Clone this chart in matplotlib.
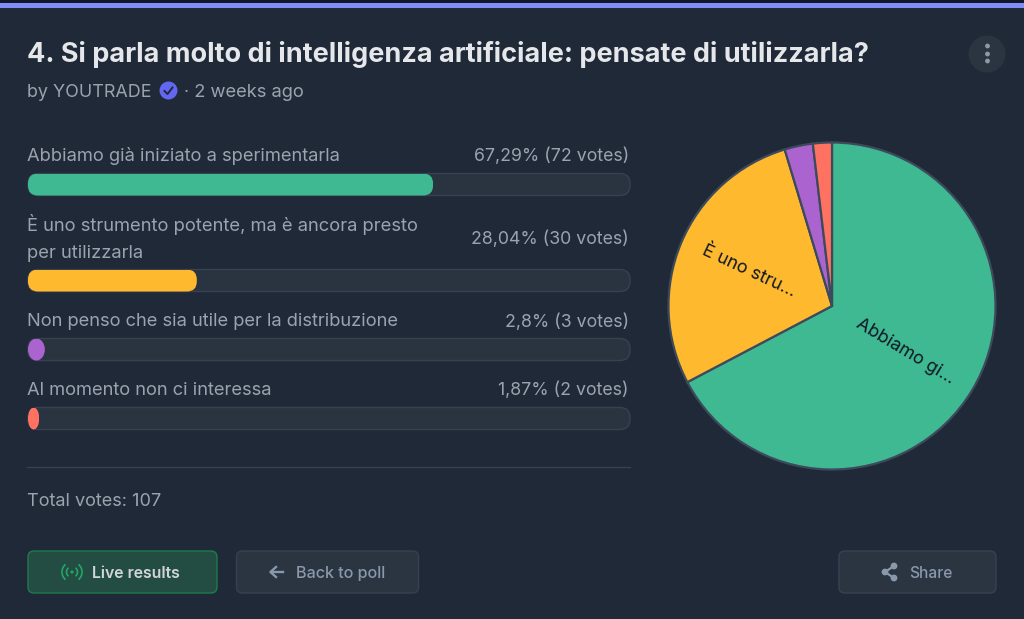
import matplotlib
matplotlib.use("Agg")
import matplotlib.pyplot as plt
from matplotlib.patches import FancyBboxPatch, Circle, Rectangle, Arc, Ellipse

plt.rcParams['font.family'] = ['Inter', 'DejaVu Sans']

title = "4. Si parla molto di intelligenza artificiale: pensate di utilizzarla?"
author = "by YOUTRADE"
age = "· 2 weeks ago"
categories = ["Abbiamo già iniziato a sperimentarla",
              "È uno strumento potente, ma è ancora presto\nper utilizzarla",
              "Non penso che sia utile per la distribuzione",
              "Al momento non ci interessa"]
percents = [67.29, 28.04, 2.8, 1.87]
votes = [72, 30, 3, 2]
value_labels = ["67,29% (72 votes)", "28,04% (30 votes)", "2,8% (3 votes)", "1,87% (2 votes)"]
colors = ["#3eb991", "#ffb92e", "#ab63d0", "#ff7262"]
pie_labels = ["Abbiamo gi...", "È uno stru...", "", ""]
total_label = "Total votes: 107"

BG = "#1f2937"
W, H = 1024, 619
fig = plt.figure(figsize=(W / 100, H / 100), dpi=100, facecolor=BG)
ui = fig.add_axes([0, 0, 1, 1], zorder=0)
ui.set_xlim(0, W); ui.set_ylim(H, 0); ui.axis("off")

# top frame
ui.add_patch(Rectangle((0, 0), W, 4, fc="#111827", ec="none"))
ui.add_patch(Rectangle((0, 3), W, 5, fc="#818cf8", ec="none"))
ui.add_patch(FancyBboxPatch((8, 16), W - 16, 700, boxstyle="round,pad=8,rounding_size=10", fc=BG, ec="none", zorder=1))

LBL = "#9ca3af"
def T(x, y, s, size=13.2, color=LBL, weight="normal", ha="left", **k):
    return ui.text(x, y, s, fontsize=size, color=color, fontweight=weight, ha=ha, va="center", zorder=5, **k)

T(27, 55, title, size=19.46, color="#e5e7eb", weight="bold")
T(27, 92.5, author, size=12.9)
T(184, 92.5, age, size=13.2)
ui.add_patch(Circle((168.5, 90.5), 9, fc="#6366f1", ec="none", zorder=5))
ui.plot([164.5, 167.5, 172.5], [91, 94, 87.5], color="#1f2937", lw=1.4, zorder=6)

# options menu
ui.add_patch(Circle((987, 54), 18.5, fc="#2b3541", ec="none", zorder=4))
for yy in (46, 54, 61):
    ui.add_patch(Circle((987.5, yy), 2.4, fc="#8e99a8", ec="none", zorder=5))

# bars
bar_ax = fig.add_axes([28 / W, 0, 602 / W, 1], zorder=2)
bar_ax.set_xlim(0, 100); bar_ax.set_ylim(H, 0); bar_ax.axis("off"); bar_ax.patch.set_alpha(0)
bar_y = [184.5, 280.5, 349.5, 418.5]
value_y = [156, 239, 322, 390.5]
BH = 22
for i, (p, c) in enumerate(zip(percents, colors)):
    y = bar_y[i]
    ui.add_patch(FancyBboxPatch((28, y - BH / 2), 602, BH, boxstyle="round,pad=0,rounding_size=10",
                                fc="#2a3440", ec="#374151", lw=1, zorder=2))
    bar = bar_ax.barh(y, p, height=BH, color=c, zorder=3)[0]
    wpx = p / 100 * 602
    if wpx < BH:
        clip = Ellipse((28 + wpx / 2, y), wpx, BH, transform=ui.transData)
    else:
        clip = FancyBboxPatch((28, y - BH / 2), wpx, BH, boxstyle="round,pad=0,rounding_size=10",
                              transform=ui.transData)
    bar.set_clip_path(clip)
    T(629, value_y[i], value_labels[i], ha="right", size=12.75)
T(27, 156, categories[0], size=13.22)
l1, l2 = categories[1].split("\n")
T(27, 224.5, l1, size=13.28); T(27, 253, l2, size=13.28)
T(27, 322, categories[2], size=13.2)
T(27, 390.5, categories[3], size=13.2)

ui.plot([27, 630], [467, 467], color="#374151", lw=1, zorder=3)
T(27, 501, total_label, size=13.05)

# buttons
def button(x, y, w, h, fc, ec):
    ui.add_patch(FancyBboxPatch((x, y), w, h, boxstyle="round,pad=0,rounding_size=6", fc=fc, ec=ec, lw=1, zorder=3))
button(28, 551, 189, 42, "#234d43", "#1f7a4d")
button(236.5, 551, 182, 42, "#2b3541", "#374151")
button(839, 551, 157, 42, "#2b3541", "#374151")
T(92, 573, "Live results", size=11.4, color="#d1d5db", weight="semibold")
T(296, 573.4, "Back to poll", size=11.6, color="#8a98ab", weight="medium")
T(909, 573, "Share", size=11.2, color="#8a98ab", weight="medium")

# live icon
G = "#22a565"
ui.add_patch(Circle((72, 572), 1.6, fc=G, ec="none", zorder=5))
for d, wd in ((11, 1.2), (20, 1.2)):
    ui.add_patch(Arc((72, 572), d, d, theta1=-50, theta2=50, color=G, lw=wd, zorder=5))
    ui.add_patch(Arc((72, 572), d, d, theta1=130, theta2=230, color=G, lw=wd, zorder=5))
# back arrow
ui.plot([271, 283], [572, 572], color="#8a98ab", lw=1.7, zorder=5)
ui.plot([276, 270.5, 276], [567, 572, 577], color="#8a98ab", lw=1.7, zorder=5)
# share icon
SC = "#8a98ab"
ui.plot([894, 885, 894], [566, 572, 578], color=SC, lw=1.6, zorder=5)
for xx, yy in ((894, 566), (885, 572), (894, 578)):
    ui.add_patch(Circle((xx, yy), 3.4, fc=SC, ec="none", zorder=5))

# pie
cx, cy, r = 832, 306, 163.5
pie_ax = fig.add_axes([(cx - r) / W, 1 - (cy + r) / H, 2 * r / W, 2 * r / H], zorder=3)
pie_ax.patch.set_alpha(0)
pie_ax.pie(percents, colors=colors, startangle=90, counterclock=False, radius=1.0,
           wedgeprops=dict(edgecolor="#3d4a5c", linewidth=1.6))
pie_ax.set_xlim(-1, 1); pie_ax.set_ylim(-1, 1)
pie_ax.text((905 - cx) / r, -(351 - cy) / r, pie_labels[0], fontsize=13, color="#111827", rotation=-31,
            ha="center", va="center", rotation_mode="anchor")
pie_ax.text((749 - cx) / r, -(271 - cy) / r, pie_labels[1], fontsize=13, color="#111827", rotation=-25,
            ha="center", va="center", rotation_mode="anchor")

fig.savefig("out.png", dpi=100, facecolor=BG)
